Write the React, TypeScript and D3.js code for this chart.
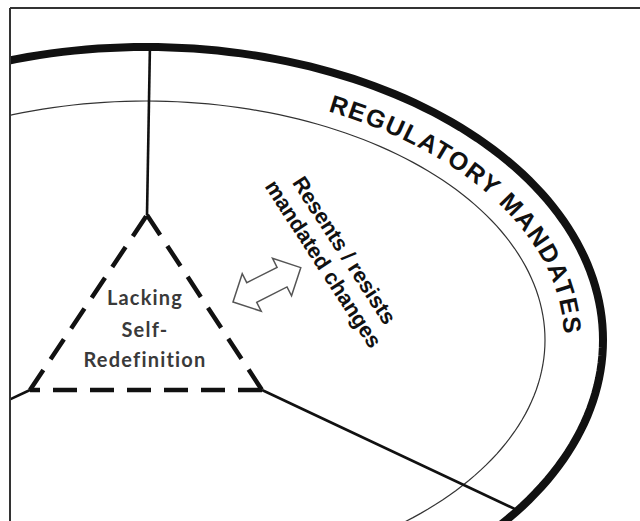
import * as d3 from "d3";

// labels
const ringLabel = "REGULATORY MANDATES";
const coreLabel = ["Lacking", "Self-", "Redefinition"];
const reactionLabel = ["Resents / resists", "mandated changes"];
// direction of each spoke leaving a triangle corner (degrees, screen)
const spokeAngles = [-89, 25.2, 154.8];

const width = 640;
const height = 521;
const cx = 146;
const cy = 340;
const outer = { rx: 457, ry: 293 };
const inner = { rx: 399, ry: 239 };
const textRing = { rx: 418, ry: 254 };
const corners: [number, number][] = [
  [147, 215],
  [262, 390],
  [30, 390],
];

const rad = (deg: number) => (deg * Math.PI) / 180;

const ellipsePath = (rx: number, ry: number, a0: number, a1: number, n = 240) =>
  d3.line()(
    d3.range(n + 1).map((i) => {
      const a = rad(a0 + ((a1 - a0) * i) / n);
      return [cx + rx * Math.cos(a), cy + ry * Math.sin(a)] as [number, number];
    })
  );

// where a ray from p hits the outer ring
const hitOuter = ([px, py]: [number, number], deg: number): [number, number] => {
  const dx = Math.cos(rad(deg));
  const dy = Math.sin(rad(deg));
  const X = px - cx;
  const Y = py - cy;
  const rx2 = outer.rx * outer.rx;
  const ry2 = outer.ry * outer.ry;
  const A = (dx * dx) / rx2 + (dy * dy) / ry2;
  const B = 2 * ((X * dx) / rx2 + (Y * dy) / ry2);
  const C = (X * X) / rx2 + (Y * Y) / ry2 - 1;
  const t = (-B + Math.sqrt(B * B - 4 * A * C)) / (2 * A);
  return [px + t * dx, py + t * dy];
};

// block double arrow, along axis / across axis
const arrowShape: [number, number][] = [
  [0, 0], [21, -21], [21, -11], [55, -11], [55, -21], [76, 0],
  [55, 21], [55, 11], [21, 11], [21, 21],
];

const App = () => {
  const sides = corners.map((c, i) => [c, corners[(i + 1) % 3]]);

  return (
    <svg
      width={width}
      height={height}
      style={{ position: "absolute", left: 0, top: 0, background: "#fff" }}
    >
      <defs>
        <clipPath id="frame">
          <rect x={10} y={8} width={width - 10} height={height - 8} />
        </clipPath>
        <path id="ringText" d={ellipsePath(textRing.rx, textRing.ry, -64.2, 30) ?? ""} />
      </defs>

      <g clipPath="url(#frame)">
        <path
          d={ellipsePath(outer.rx, outer.ry, 0, 360) ?? ""}
          fill="none"
          stroke="#111"
          strokeWidth={8}
        />
        <path
          d={ellipsePath(inner.rx, inner.ry, 0, 360) ?? ""}
          fill="none"
          stroke="#333"
          strokeWidth={1.2}
        />
        {corners.map((c, i) => {
          const [x2, y2] = hitOuter(c, spokeAngles[i]);
          return (
            <line key={i} x1={c[0]} y1={c[1]} x2={x2} y2={y2} stroke="#111" strokeWidth={2.6} />
          );
        })}
        {sides.map(([a, b], i) => (
          <line
            key={i}
            x1={a[0]}
            y1={a[1]}
            x2={b[0]}
            y2={b[1]}
            stroke="#111"
            strokeWidth={4.5}
            strokeDasharray="24 13"
          />
        ))}
      </g>

      <text
        fontFamily="'Liberation Sans', Arial, sans-serif"
        fontWeight="bold"
        fontSize={25}
        letterSpacing={1.5}
        fill="#111"
      >
        <textPath href="#ringText">{ringLabel}</textPath>
      </text>

      <g transform="translate(334,257) rotate(57)">
        {reactionLabel.map((s, i) => (
          <text
            key={s}
            x={0}
            y={-5 + i * 25}
            textAnchor="middle"
            fontFamily="'Liberation Sans', Arial, sans-serif"
            fontWeight="bold"
            fontSize={21.5}
            fill="#111"
          >
            {s}
          </text>
        ))}
      </g>

      {coreLabel.map((s, i) => (
        <text
          key={s}
          x={145}
          y={[305, 337, 367][i]}
          textAnchor="middle"
          fontFamily="Lato, 'Open Sans', sans-serif"
          fontWeight="bold"
          fontSize={20}
          letterSpacing={1.2}
          fill="#3a3a3a"
        >
          {s}
        </text>
      ))}

      <g transform="translate(233,302) rotate(-26.9)">
        <polygon
          points={arrowShape.map((p) => p.join(",")).join(" ")}
          fill="#fff"
          stroke="#555"
          strokeWidth={1.5}
          strokeLinejoin="miter"
        />
      </g>

      <path d="M10,8H640M10,8V521" fill="none" stroke="#333" strokeWidth={2} />
    </svg>
  );
};

export default App;
